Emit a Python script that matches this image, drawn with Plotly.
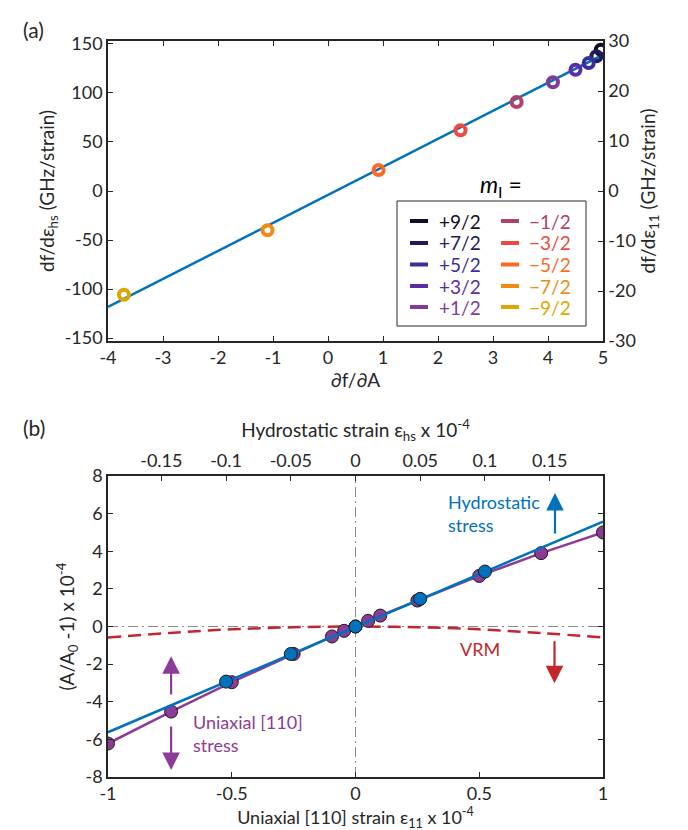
import plotly.graph_objects as go

W, H = 688, 830
def px(x): return x / W
def py(y): return 1 - y / H

FONT = "Lato"
INK = "#262626"

# ---------------- Panel (a) data ----------------
mI_labels = ["+9/2", "+7/2", "+5/2", "+3/2", "+1/2", "−1/2", "−3/2", "−5/2", "−7/2", "−9/2"]
mI_colors = ["#100e24", "#201b5e", "#3c2d97", "#5b2ca7", "#7f3b9a",
             "#b0406e", "#ee4a42", "#fb6a25", "#ef8a14", "#dca700"]
dfdA = [4.96, 4.88, 4.74, 4.50, 4.09, 3.43, 2.41, 0.92, -1.10, -3.71]
dfde_hs = [144.1, 137.4, 130.6, 123.7, 110.9, 90.8, 61.9, 21.4, -40.1, -105.8]
fit_a_x = [-4, 5]
fit_a_y = [-118.3, 139.0]

a_xticks = [-4, -3, -2, -1, 0, 1, 2, 3, 4, 5]
a_xtext = ["-4", "-3", "-2", "-1", "0", "1", "2", "3", "4", "5"]
a_yticks = [-150, -100, -50, 0, 50, 100, 150]
a_ytext = ["-150", "-100", "-50", "0", "50", "100", "150"]
a_y2ticks = [-30, -20, -10, 0, 10, 20, 30]
a_y2text = ["-30", "-20", "-10", "0", "10", "20", "30"]

# ---------------- Panel (b) data ----------------
uni_x = [-1.0, -0.745, -0.5, -0.25, -0.095, -0.046, 0.0, 0.051, 0.10, 0.25, 0.5, 0.75, 1.0]
uni_y = [-6.22, -4.52, -2.96, -1.46, -0.53, -0.23, 0.0, 0.30, 0.58, 1.38, 2.69, 3.90, 5.00]
hs_x = [-0.10, -0.05, 0.0, 0.05, 0.10]
hs_y = [-2.93, -1.46, 0.0, 1.47, 2.92]
hs_fit_x = [-0.1912, 0.1912]
hs_fit_y = [-5.62, 5.58]
vrm_x = [-1.0, -0.75, -0.5, -0.25, 0.0, 0.25, 0.5, 0.75, 1.0]
vrm_y = [-0.58, -0.34, -0.15, -0.04, 0.0, -0.04, -0.15, -0.35, -0.58]

b_xticks = [-1, -0.5, 0, 0.5, 1]
b_xtext = ["-1", "-0.5", "0", "0.5", "1"]
b_x2ticks = [-0.15, -0.1, -0.05, 0, 0.05, 0.1, 0.15]
b_x2text = ["-0.15", "-0.1", "-0.05", "0", "0.05", "0.1", "0.15"]
b_yticks = [-8, -6, -4, -2, 0, 2, 4, 6, 8]
b_ytext = ["-8", "-6", "-4", "-2", "0", "2", "4", "6", "8"]

BLUE = "#0072bd"
PURPLE = "#8c3c96"
RED = "#c1272d"

fig = go.Figure()

# Panel (a)
fig.add_trace(go.Scatter(x=fit_a_x, y=fit_a_y, mode="lines",
                         line=dict(color=BLUE, width=2.5), xaxis="x", yaxis="y",
                         showlegend=False, hoverinfo="skip"))
for lab, col, xv, yv in zip(mI_labels, mI_colors, dfdA, dfde_hs):
    fig.add_trace(go.Scatter(x=[xv], y=[yv], mode="markers", name=lab,
                             marker=dict(symbol="circle-open", size=10, color=col,
                                         line=dict(width=4, color=col)),
                             xaxis="x", yaxis="y", showlegend=False))
# dummy trace so the right axis is drawn
fig.add_trace(go.Scatter(x=[None], y=[None], xaxis="x", yaxis="y2", showlegend=False))

# Panel (b)
fig.add_trace(go.Scatter(x=vrm_x, y=vrm_y, mode="lines", line_shape="spline",
                         line=dict(color=RED, width=2.5, dash="13px,7px"),
                         xaxis="x3", yaxis="y3", showlegend=False))
fig.add_trace(go.Scatter(x=hs_fit_x, y=hs_fit_y, mode="lines",
                         line=dict(color=BLUE, width=2.5),
                         xaxis="x4", yaxis="y3", showlegend=False))
fig.add_trace(go.Scatter(x=uni_x, y=uni_y, mode="lines+markers",
                         line=dict(color=PURPLE, width=2.5),
                         marker=dict(size=13, color=PURPLE, line=dict(color="#1a1a1a", width=1)),
                         xaxis="x3", yaxis="y3", showlegend=False))
fig.add_trace(go.Scatter(x=hs_x, y=hs_y, mode="markers",
                         marker=dict(size=13, color=BLUE, line=dict(color="#1a1a1a", width=1)),
                         xaxis="x4", yaxis="y3", showlegend=False))

axcommon = dict(ticks="inside", ticklen=5, tickwidth=1, tickcolor=INK,
                showline=True, linecolor=INK, linewidth=1.5, showgrid=False,
                zeroline=False, tickfont=dict(size=18, color=INK, family=FONT),
                tickmode="array", automargin=False)
titlefont = dict(size=19, color=INK, family=FONT)

xdom = [px(100), px(595)]
fig.update_layout(
    width=W, height=H, autosize=False,
    margin=dict(l=0, r=0, t=0, b=0, pad=0),
    paper_bgcolor="white", plot_bgcolor="white",
    font=dict(family=FONT, color=INK, size=18),
    xaxis=dict(axcommon, domain=xdom, anchor="y", range=[-4, 5], mirror="ticks",
               tickvals=a_xticks, ticktext=a_xtext,
               title=dict(text="∂f/∂A", font=titlefont, standoff=5)),
    yaxis=dict(axcommon, domain=[py(333), py(33)], anchor="x", range=[-153, 153],
               tickvals=a_yticks, ticktext=a_ytext,
               title=dict(text="df/dε<sub>hs</sub> (GHz/strain)", font=titlefont, standoff=5)),
    yaxis2=dict(axcommon, overlaying="y", side="right", anchor="x", range=[-30, 30],
                tickvals=a_y2ticks, ticktext=a_y2text,
                title=dict(text="df/dε<sub>11</sub> (GHz/strain)", font=titlefont, standoff=5)),
    xaxis3=dict(axcommon, domain=xdom, anchor="y3", range=[-1, 1],
                tickvals=b_xticks, ticktext=b_xtext,
                title=dict(text="Uniaxial [110] strain ε<sub>11</sub> x 10<sup>-4</sup>",
                           font=dict(size=18, color=INK, family=FONT), standoff=0)),
    xaxis4=dict(axcommon, overlaying="x3", side="top", anchor="y3",
                range=[hs_fit_x[0], hs_fit_x[1]],
                tickvals=b_x2ticks, ticktext=b_x2text,
                title=dict(text="Hydrostatic strain ε<sub>hs</sub> x 10<sup>-4</sup>",
                           font=titlefont, standoff=6)),
    yaxis3=dict(axcommon, domain=[py(769), py(468)], anchor="x3", range=[-8, 8],
                mirror="ticks", tickvals=b_yticks, ticktext=b_ytext,
                title=dict(text="(A/A<sub>0</sub> -1) x 10<sup>-4</sup>", font=titlefont, standoff=6)),
)

shapes = []
# reference dash-dot lines in (b)
shapes.append(dict(type="line", xref="x3", yref="y3 domain", x0=0, x1=0, y0=0, y1=1,
                   line=dict(color="#8a8a8a", width=1, dash="10px,4px,2px,4px"), layer="below"))
shapes.append(dict(type="line", xref="x3 domain", yref="y3", x0=0, x1=1, y0=0, y1=0,
                   line=dict(color="#8a8a8a", width=1, dash="10px,4px,2px,4px"), layer="below"))

# manual legend for panel (a)
shapes.append(dict(type="rect", xref="paper", yref="paper",
                   x0=px(389), x1=px(578), y0=py(318), y1=py(193),
                   line=dict(color=INK, width=1), fillcolor="white", layer="above"))
ann = []
row_y = [213, 235, 256.5, 278, 299]
for i, (lab, col) in enumerate(zip(mI_labels, mI_colors)):
    c = i // 5
    r = i % 5
    lx0 = 402 if c == 0 else 493
    tx = 429 if c == 0 else 519
    shapes.append(dict(type="line", xref="paper", yref="paper",
                       x0=px(lx0), x1=px(lx0 + 18), y0=py(row_y[r]), y1=py(row_y[r]),
                       line=dict(color=col, width=4), layer="above"))
    ann.append(dict(xref="paper", yref="paper", x=px(tx), y=py(row_y[r]),
                    text=lab, showarrow=False, xanchor="left", yanchor="middle",
                    font=dict(size=19, color=col, family=FONT)))
ann.append(dict(xref="paper", yref="paper", x=px(493), y=py(178),
                text="<i>m</i><sub>I</sub> =", showarrow=False, xanchor="center",
                yanchor="middle", font=dict(size=23, color="black", family=FONT)))

# panel labels
ann.append(dict(xref="paper", yref="paper", x=px(13), y=py(21), text="(a)", showarrow=False,
                xanchor="left", yanchor="middle", font=dict(size=21, color=INK, family=FONT)))
ann.append(dict(xref="paper", yref="paper", x=px(13), y=py(420), text="(b)", showarrow=False,
                xanchor="left", yanchor="middle", font=dict(size=21, color=INK, family=FONT)))

# text annotations in (b)
ann.append(dict(xref="x3", yref="y3", x=0.365, y=6.03, text="Hydrostatic<br>stress",
                showarrow=False, xanchor="left", yanchor="middle", align="left",
                font=dict(size=18, color=BLUE, family=FONT)))
ann.append(dict(xref="x3", yref="y3", x=0.502, y=-1.19, text="VRM",
                showarrow=False, xanchor="center", yanchor="middle",
                font=dict(size=18, color=RED, family=FONT)))
ann.append(dict(xref="x3", yref="y3", x=-0.665, y=-5.67, text="Uniaxial [110]<br>stress",
                showarrow=False, xanchor="left", yanchor="middle", align="left",
                font=dict(size=18, color=PURPLE, family=FONT)))

# arrows
def arrow(x_tip, y_tip, x_tail, y_tail, color):
    return dict(xref="x3", yref="y3", axref="x3", ayref="y3",
                x=x_tip, y=y_tip, ax=x_tail, ay=y_tail, text="",
                showarrow=True, arrowhead=2, arrowsize=1.6, arrowwidth=2.2,
                arrowcolor=color)

ann.append(arrow(0.806, 7.1, 0.806, 4.87, BLUE))
ann.append(arrow(0.804, -3.02, 0.804, -0.71, RED))
ann.append(arrow(-0.745, -1.58, -0.745, -3.70, PURPLE))
ann.append(arrow(-0.745, -7.63, -0.745, -5.24, PURPLE))

fig.update_layout(shapes=shapes, annotations=ann)

fig.write_html("out.html")
